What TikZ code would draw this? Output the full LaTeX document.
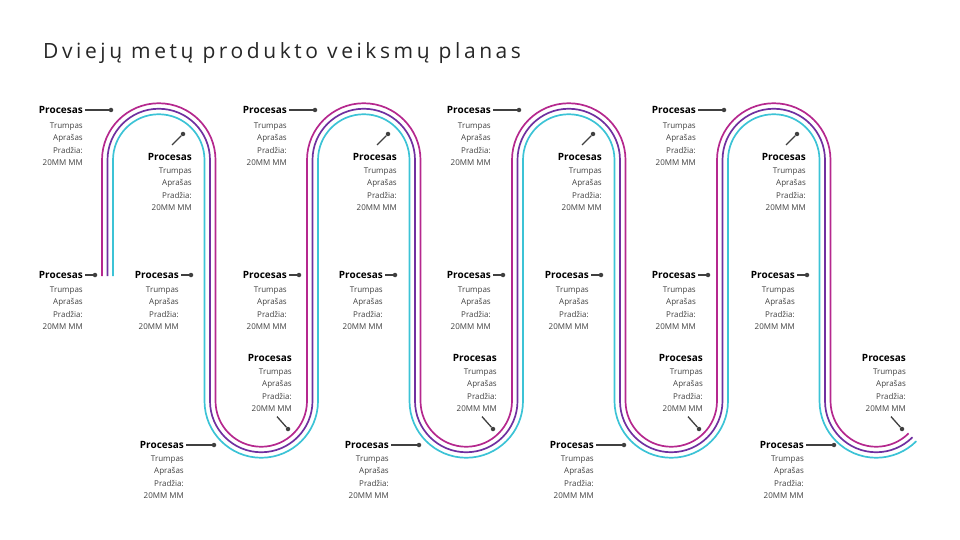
\documentclass[tikz,border=0pt]{standalone}
\usepackage{fontspec}
\setmainfont{Open Sans}
\newfontfamily\titlefont{Open Sans}[LetterSpace=17]
\usetikzlibrary{positioning}
\definecolor{roadpink}{HTML}{B5288E}
\definecolor{roadpurple}{HTML}{7030A0}
\definecolor{roadcyan}{HTML}{3CC3D6}
\definecolor{notegray}{HTML}{404040}

% one strand of the road, #1 = offset, #2 = colour
\newcommand{\roadline}[2]{%
  \draw[road, #2] ({107.5-(#1)},276) -- ({107.5-(#1)},160)
    \foreach \k in {0,1,2} {
      arc[start angle=180, end angle=360, radius={51.25+(#1)}] -- ++(0,241)
      arc[start angle=180, end angle=0, radius={51.25-(#1)}] -- ++(0,-241)
    }
    arc[start angle=180, end angle=360, radius={51.25+(#1)}] -- ++(0,241)
    arc[start angle=180, end angle=45, radius={51.25-(#1)}];
}

\begin{document}
\begin{tikzpicture}[x=1pt, y=-1pt,
    font=\fontsize{8}{12.2}\selectfont,
    road/.style={line width=1.7pt},
    head/.style={font=\fontsize{10}{12}\selectfont\bfseries, inner sep=0pt, anchor=east},
    note/.style={text=notegray, align=right, inner sep=0pt},
    pin/.style={circle, fill=notegray, inner sep=0pt, minimum size=4.5pt},
    lead/.style={draw=notegray, line width=1.3pt}
]
\useasboundingbox (0,0) rectangle (960,540);

% 1. Title
\node[anchor=west, inner sep=0pt, text=black!85, font=\titlefont\fontsize{21}{26}\selectfont] (title) at (43,53) {Dviejų metų produkto veiksmų planas};

% 2. The three strands
\roadline{5.5}{roadpink}
\roadline{0}{roadpurple}
\roadline{-5.5}{roadcyan}

% 3. Upper row, outside the bends
\foreach \i/\x in {1/83, 2/287, 3/491, 4/696} {
  \node[head] (top\i) at (\x,110) {Procesas};
  \node[note, below=9pt of top\i.south east, anchor=north east] (topn\i) {Trumpas\\Aprašas\\Pradžia:\\20MM MM};
  \node[pin] (topd\i) at (\x+28,110) {};
  \draw[lead] ([xshift=2pt]top\i.east) -- (topd\i);
}

% 4. Upper row, inside the bends
\foreach \i/\x in {1/192, 2/397, 3/602, 4/806} {
  \node[head] (arc\i) at (\x,157) {Procesas};
  \node[note, below=7pt of arc\i.south east, anchor=north east] (arcn\i) {Trumpas\\Aprašas\\Pradžia:\\20MM MM};
  \node[pin] (arcd\i) at (\x-9,134) {};
  \draw[lead] ([shift={(-20pt,12pt)}]arc\i.east) -- (arcd\i);
}

% 5. Middle row
\foreach \i/\x in {1/83, 2/179, 3/287, 4/383, 5/491, 6/589, 7/696, 8/795} {
  \node[head] (mid\i) at (\x,275) {Procesas};
  \node[note, below=8pt of mid\i.south east, anchor=north east] (midn\i) {Trumpas\\Aprašas\\Pradžia:\\20MM MM};
  \node[pin] (midd\i) at (\x+12,275) {};
  \draw[lead] ([xshift=2pt]mid\i.east) -- (midd\i);
}

% 6. Lower row, inside the bends
\foreach \i/\x in {1/292, 2/497, 3/703, 4/906} {
  \node[head] (dip\i) at (\x,358) {Procesas};
  \node[note, below=7pt of dip\i.south east, anchor=north east] (dipn\i) {Trumpas\\Aprašas\\Pradžia:\\20MM MM};
  \node[pin] (dipd\i) at (\x-4,429) {};
  \draw[lead] ([shift={(-15pt,-5pt)}]dipn\i.south east) -- (dipd\i);
}

% 7. Lower row, outside the bends
\foreach \i/\x in {1/184, 2/389, 3/594, 4/804} {
  \node[head] (low\i) at (\x,445) {Procesas};
  \node[note, below=7pt of low\i.south east, anchor=north east] (lown\i) {Trumpas\\Aprašas\\Pradžia:\\20MM MM};
  \node[pin] (lowd\i) at (\x+30,445) {};
  \draw[lead] ([xshift=2pt]low\i.east) -- (lowd\i);
}

\end{tikzpicture}
\end{document}
